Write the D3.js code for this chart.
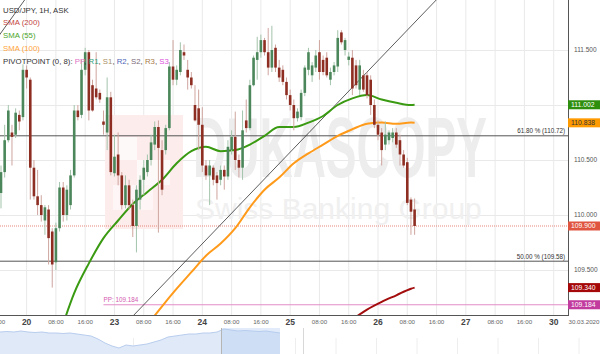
<!DOCTYPE html>
<html>
<head>
<meta charset="utf-8">
<script src="https://cdn.jsdelivr.net/npm/d3@7"></script>
<style>
  body { margin: 0; background: #fff; }
  svg { display: block; font-family: "Liberation Sans", Arial, sans-serif; }
</style>
</head>
<body>
<svg id="chart" width="600" height="354"></svg>
<script>
// USD/JPY 1H candles, first one is 19.03 17:00
var candleOpen = [110.20,110.39,110.68,110.75,110.73,110.91,110.89,111.32,111.23,110.43,
  110.17,110.09,109.95,110.05,109.85,109.57,109.88,110.25,110.00,110.09,
  110.36,110.95,110.91,111.32,111.48,111.18,111.15,111.11,110.85,110.75,
  111.07,110.38,110.55,110.36,110.09,110.27,110.09,109.90,110.14,110.32,
  110.39,110.50,110.64,110.80,110.59,110.59,110.79,111.35,111.23,111.30,
  111.48,111.32,111.25,111.00,110.97,110.82,110.45,110.36,110.43,110.36,
  110.32,110.41,110.35,110.59,110.71,110.50,110.43,110.86,110.79,111.18,
  111.41,111.48,111.59,111.48,111.34,111.52,111.34,111.32,111.21,111.09,
  111.00,110.88,110.89,111.11,111.32,111.27,111.34,111.48,111.41,111.43,
  111.23,111.30,111.35,111.66,111.50,111.41,111.43,111.36,111.14,111.27,
  111.27,111.23,111.00,110.82,110.75,110.64,110.68,110.70,110.75,110.68,
  110.55,110.48,110.14,110.05];
var candleHigh = [110.45,110.82,111.00,110.82,110.97,110.95,111.37,111.36,111.25,110.50,
  110.41,110.18,110.09,110.09,109.88,109.93,110.30,110.30,110.27,110.41,
  111.00,111.00,111.41,111.52,111.50,111.23,111.48,111.14,110.95,111.25,
  111.12,110.73,110.75,110.39,110.36,110.32,110.14,110.27,110.36,110.50,
  110.55,110.73,110.85,110.86,110.68,110.82,111.39,111.59,111.36,111.57,
  111.55,111.41,111.30,111.18,111.14,110.98,110.50,110.50,110.45,110.39,
  110.45,110.45,110.68,110.77,110.94,110.55,110.95,111.05,111.23,111.45,
  111.62,111.64,111.61,111.70,111.72,111.55,111.41,111.36,111.25,111.14,
  111.05,110.97,111.14,111.36,111.52,111.39,111.50,111.59,111.45,111.48,
  111.34,111.39,111.68,111.68,111.61,111.48,111.50,111.41,111.41,111.32,
  111.30,111.27,111.05,110.86,110.79,110.85,110.77,110.79,110.79,110.73,
  110.59,110.52,110.16,110.15];
var candleLow = [110.06,110.34,110.66,110.45,110.70,110.77,110.86,111.15,110.14,110.14,
  110.00,109.94,109.82,109.55,109.34,109.50,109.85,109.94,109.95,110.05,
  110.34,110.86,110.88,111.27,110.86,110.94,111.05,111.02,110.73,110.59,
  110.36,110.35,110.27,110.05,110.06,110.05,109.80,109.66,110.05,110.18,
  110.35,110.45,110.59,109.84,110.18,110.55,110.77,111.18,111.18,111.27,
  111.41,111.14,111.15,110.85,110.59,110.39,110.32,110.09,110.27,110.14,
  110.27,110.23,110.32,110.55,110.41,110.34,110.32,110.75,110.77,111.17,
  111.23,111.43,111.45,111.27,111.30,111.30,111.21,111.18,111.05,110.95,
  110.77,110.85,110.86,111.08,111.27,111.21,111.30,111.23,111.27,111.25,
  111.18,111.27,111.30,111.55,111.45,111.36,111.09,111.15,111.09,111.12,
  111.06,110.91,110.79,110.68,110.45,110.59,110.64,110.66,110.61,110.45,
  110.43,110.09,109.82,109.82];
var candleClose = [110.39,110.68,110.95,110.71,110.93,110.85,111.32,111.25,110.43,110.17,
  110.09,110.00,110.07,109.79,109.55,109.88,110.25,110.00,110.23,110.36,
  110.95,110.89,111.32,111.48,110.95,110.95,111.07,111.05,110.82,111.07,
  110.39,110.53,110.36,110.09,110.27,110.09,109.90,110.23,110.32,110.43,
  110.50,110.66,110.80,110.61,110.23,110.79,111.35,111.23,111.32,111.50,
  111.45,111.25,111.18,110.86,110.82,110.45,110.36,110.45,110.32,110.29,
  110.41,110.35,110.62,110.71,110.50,110.43,110.77,110.79,111.18,111.43,
  111.48,111.59,111.48,111.34,111.50,111.34,111.25,111.21,111.09,111.00,
  110.88,110.94,111.11,111.34,111.48,111.36,111.45,111.30,111.30,111.27,
  111.30,111.36,111.61,111.57,111.59,111.44,111.15,111.18,111.36,111.14,
  111.09,111.00,110.82,110.73,110.59,110.73,110.75,110.75,110.64,110.55,
  110.45,110.11,110.03,109.90];

// moving averages, read at every 4th candle
var sma55Idx = [16,20,24,28,32,36,40,44,48,52,56,60,64,68,72,76,80,84,88,92,96,100,104,108,112,113];
var sma55 = [108.91,109.29,109.56,109.79,109.95,110.10,110.21,110.32,110.47,110.58,110.62,110.58,110.59,
  110.64,110.72,110.80,110.80,110.84,110.90,111.00,111.06,111.09,111.05,111.02,111.00,111.002];
var sma100Idx = [40,44,48,52,56,60,64,68,72,76,80,84,88,92,96,100,104,108,112,113];
var sma100 = [109.00,109.17,109.33,109.48,109.63,109.74,109.88,110.07,110.23,110.34,110.47,110.56,
  110.64,110.72,110.78,110.83,110.84,110.83,110.84,110.838];
var sma200Idx = [96,100,104,108,112,113];
var sma200 = [109.05,109.14,109.21,109.27,109.33,109.34];

// drawn objects
var trendIdx = [36, 113];
var trendPrice = [109.08, 111.75];
var trend2Idx = [-1, 7];
var trend2Price = [111.61, 111.98];
var fibLevels = [110.72, 109.58];
var fibLabels = ["61.80 % (110.72)", "50.00 % (109.58)"];
var lastPrice = 109.900;
var pivotPP = 109.184;
var pivotStart = 28;

var yTicks = [109.5, 110.0, 110.5, 111.0, 111.5];
var dayLabels = ["20", "23", "24", "25", "26", "27", "30"];
var hourLabels = ["08:00", "16:00"];
var endDate = "30.03.2020";
var tagValues = [111.002, 110.838, 109.900, 109.340, 109.184];

// navigator overview (longer history)
var navPrices = [111,111.25,111,111.5,111,110.75,111,110.5,110.5,110.25,110.5,110,109.5,109,
  107.5,105.5,104,103,104.5,104,104.5,105,106,107,108.5,109,109.5,110,110,110.5,110.5,111,
  112.5,112,111.5,111.75,111.5,111.25,111.5,111,110.5];

var svg = d3.select("#chart");
var plotR = 568, plotB = 315;

var x = d3.scaleLinear().domain([0, 151]).range([1, 553.7]);
var y = d3.scaleLinear().domain([109.5, 111.5]).range([270, 50]);

svg.append("rect").attr("width", 600).attr("height", 354).attr("fill", "#fff");

svg.append("defs").append("clipPath").attr("id", "plotclip")
  .append("rect").attr("x", 0).attr("y", 0).attr("width", plotR).attr("height", plotB);

var plot = svg.append("g").attr("clip-path", "url(#plotclip)");

// grid
var gridK = d3.range(-1, 152, 8);
plot.selectAll("line.vg").data(gridK).enter().append("line")
  .attr("x1", function(d){ return x(d); }).attr("x2", function(d){ return x(d); })
  .attr("y1", 0).attr("y2", plotB)
  .attr("stroke", "#e9e9e9").attr("stroke-width", 1);
plot.selectAll("line.hg").data(yTicks).enter().append("line")
  .attr("x1", 0).attr("x2", plotR)
  .attr("y1", function(d){ return Math.round(y(d)) + 0.5; })
  .attr("y2", function(d){ return Math.round(y(d)) + 0.5; })
  .attr("stroke", "#e9e9e9").attr("stroke-width", 1);

// watermark
var wm = plot.append("g");
wm.append("rect").attr("x", 105).attr("y", 115).attr("width", 78).attr("height", 114).attr("fill", "#fcecec");
wm.append("rect").attr("x", 113).attr("y", 137).attr("width", 24).attr("height", 23).attr("fill", "#fff").attr("opacity", 0.7);
wm.append("rect").attr("x", 137).attr("y", 160).attr("width", 33).attr("height", 25).attr("fill", "#fff").attr("opacity", 0.7);
wm.append("rect").attr("x", 113).attr("y", 185).attr("width", 40).attr("height", 25).attr("fill", "#fff").attr("opacity", 0.5);
wm.append("text").attr("transform", "translate(193,177) scale(1,1.85)")
  .attr("font-size", 46).attr("font-weight", "bold")
  .attr("fill", "#ededed").text("DUKASCOPY");
wm.append("text").attr("x", 195).attr("y", 219)
  .attr("font-size", 30)
  .attr("fill", "#f0f0f0").text("Swiss Banking Group");

// fib levels
fibLevels.forEach(function(v, i){
  plot.append("line").attr("x1", 0).attr("x2", plotR)
    .attr("y1", y(v)).attr("y2", y(v))
    .attr("stroke", "#555").attr("stroke-width", 1);
  svg.append("text").attr("x", 565).attr("y", y(v) - 2.5)
    .attr("text-anchor", "end").attr("font-size", 6.3).attr("fill", "#333")
    .text(fibLabels[i]);
});

// last price dotted line
plot.append("line").attr("x1", 0).attr("x2", plotR)
  .attr("y1", y(lastPrice)).attr("y2", y(lastPrice))
  .attr("stroke", "#e8867a").attr("stroke-width", 1).attr("stroke-dasharray", "1,1");

// pivot PP
plot.append("line").attr("x1", x(pivotStart)).attr("x2", plotR)
  .attr("y1", y(pivotPP)).attr("y2", y(pivotPP))
  .attr("stroke", "#e48cc8").attr("stroke-width", 1);
plot.append("text").attr("x", x(pivotStart)).attr("y", y(pivotPP) - 2.5)
  .attr("font-size", 6.3).attr("fill", "#d45bb0").text("PP: " + pivotPP.toFixed(3));

// trend lines
function extLine(idx, pr, k0, k1) {
  var s = (pr[1] - pr[0]) / (idx[1] - idx[0]);
  return [[k0, pr[0] + s * (k0 - idx[0])], [k1, pr[0] + s * (k1 - idx[0])]];
}
var line = d3.line().x(function(d){ return x(d[0]); }).y(function(d){ return y(d[1]); });
plot.append("path").attr("d", line(extLine(trendIdx, trendPrice, 30, 160)))
  .attr("stroke", "#333").attr("stroke-width", 0.8).attr("fill", "none");
plot.append("path").attr("d", line(extLine(trend2Idx, trend2Price, -3, 10)))
  .attr("stroke", "#333").attr("stroke-width", 0.8).attr("fill", "none");

// SMAs
var smaLine = d3.line().curve(d3.curveMonotoneX)
  .x(function(d){ return x(d[0]); }).y(function(d){ return y(d[1]); });
function drawSma(idx, vals, col) {
  plot.append("path").attr("d", smaLine(d3.zip(idx, vals)))
    .attr("stroke", col).attr("stroke-width", 2).attr("fill", "none");
}
drawSma(sma55Idx, sma55, "#3a9a12");
drawSma(sma100Idx, sma100, "#ff9a1a");
drawSma(sma200Idx, sma200, "#a30d0d");

// candles
var candles = candleOpen.map(function(o, i){
  return { i: i, o: o, h: candleHigh[i], l: candleLow[i], c: candleClose[i] };
});
var cg = plot.selectAll("g.candle").data(candles).enter().append("g");
cg.append("line")
  .attr("x1", function(d){ return x(d.i); }).attr("x2", function(d){ return x(d.i); })
  .attr("y1", function(d){ return y(d.h); }).attr("y2", function(d){ return y(d.l); })
  .attr("stroke", function(d){ return d.c >= d.o ? "#a3c4ab" : "#cfa59f"; })
  .attr("stroke-width", 1);
cg.append("rect")
  .attr("x", function(d){ return x(d.i) - 1.3; }).attr("width", 2.6)
  .attr("y", function(d){ return y(Math.max(d.o, d.c)); })
  .attr("height", function(d){ return Math.max(1, Math.abs(y(d.o) - y(d.c))); })
  .attr("fill", function(d){ return d.c >= d.o ? "#4b875a" : "#8e2e22"; });

// legend
var lg = svg.append("g").attr("font-size", 7.8);
lg.append("text").attr("x", 3).attr("y", 12.5).attr("fill", "#333").text("USD/JPY, 1H, ASK");
lg.append("text").attr("x", 3).attr("y", 25.3).attr("fill", "#c4463e").text("SMA (200)");
lg.append("text").attr("x", 3).attr("y", 38).attr("fill", "#4aa52a").text("SMA (55)");
lg.append("text").attr("x", 3).attr("y", 50.8).attr("fill", "#ffa43a").text("SMA (100)");
var pv = lg.append("text").attr("x", 3).attr("y", 63.6).attr("fill", "#333");
pv.append("tspan").text("PIVOTPOINT (0, 8): ");
var pvNames = ["PP", "R1", "S1", "R2", "S2", "R3", "S3"];
var pvCols = ["#e070c4", "#2f9e78", "#a99063", "#4d64b8", "#7a6a7a", "#a77a48", "#dd50dd"];
pvNames.forEach(function(n, i){
  pv.append("tspan").attr("fill", pvCols[i]).text(n);
  if (i < pvNames.length - 1) pv.append("tspan").attr("fill", "#333").text(", ");
});

// axes frame
svg.append("line").attr("x1", plotR + 0.5).attr("x2", plotR + 0.5).attr("y1", 0).attr("y2", plotB)
  .attr("stroke", "#555").attr("stroke-width", 1);
svg.append("line").attr("x1", 0).attr("x2", plotR + 1).attr("y1", plotB + 0.5).attr("y2", plotB + 0.5)
  .attr("stroke", "#555").attr("stroke-width", 1);

// y tick labels (the 111.000 one sits under the SMA tag)
var tagYs = tagValues.map(function(v){ return y(v); });
svg.selectAll("text.yt")
  .data(yTicks.filter(function(d){
    return tagYs.every(function(ty){ return Math.abs(ty - y(d)) > 7; });
  }))
  .enter().append("text")
  .attr("x", 574).attr("y", function(d){ return y(d) + 2.3; })
  .attr("font-size", 6.5).attr("fill", "#555")
  .text(function(d){ return d.toFixed(3); });

// price tags
var tagBg = ["#2e8e0e", "#ff9a00", "#e0553f", "#a50808", "#c23b9e"];
var tagFg = ["#fff", "#333", "#fff", "#fff", "#fff"];
tagValues.forEach(function(v, i){
  var yy = y(v);
  svg.append("rect").attr("x", 568).attr("y", yy - 4.5).attr("width", 32).attr("height", 9)
    .attr("fill", tagBg[i]);
  svg.append("text").attr("x", 571).attr("y", yy + 2.4)
    .attr("font-size", 6.8).attr("fill", tagFg[i]).text(v.toFixed(3));
});

// x labels
gridK.forEach(function(k){
  var h = ((k - 7) % 24 + 24) % 24;
  var isDay = h === 0;
  var label = isDay ? dayLabels[(k - 7) / 24] : hourLabels[h / 8 - 1];
  svg.append("text").attr("x", x(k)).attr("y", isDay ? 324.5 : 323.5)
    .attr("text-anchor", "middle")
    .attr("font-size", isDay ? 8.5 : 6.2)
    .attr("font-weight", isDay ? "bold" : "normal")
    .attr("fill", isDay ? "#444" : "#666")
    .text(label);
});
svg.append("text").attr("x", 584).attr("y", 323.5).attr("text-anchor", "middle")
  .attr("font-size", 6.2).attr("fill", "#666").text(endDate);

// navigator
var nav = svg.append("g");
var navX = d3.scaleLinear().domain([0, navPrices.length - 1]).range([0, 280]);
var navY = d3.scaleLinear().domain([100, 113]).range([354, 328]);
d3.range(12, 600, 40.5).forEach(function(xx){
  nav.append("line").attr("x1", xx).attr("x2", xx).attr("y1", 338).attr("y2", 354)
    .attr("stroke", "#eeeeee").attr("stroke-width", 1);
});
var navArea = d3.area().x(function(d, i){ return navX(i); })
  .y0(354).y1(function(d){ return navY(d); });
nav.append("path").attr("d", navArea(navPrices)).attr("fill", "#dfe9f8");
nav.append("path").attr("d", d3.line().x(function(d, i){ return navX(i); }).y(function(d){ return navY(d); })(navPrices))
  .attr("fill", "none").attr("stroke", "#b9cdee").attr("stroke-width", 1);
nav.append("rect").attr("x", 221).attr("y", 328).attr("width", 59).attr("height", 26)
  .attr("fill", "#b4ccf0").attr("opacity", 0.4);
nav.append("line").attr("x1", 221.5).attr("x2", 221.5).attr("y1", 328).attr("y2", 354)
  .attr("stroke", "#b5b5b5").attr("stroke-width", 1);
nav.append("line").attr("x1", 303.5).attr("x2", 303.5).attr("y1", 328).attr("y2", 354)
  .attr("stroke", "#d8d8d8").attr("stroke-width", 1);
</script>
</body>
</html>
